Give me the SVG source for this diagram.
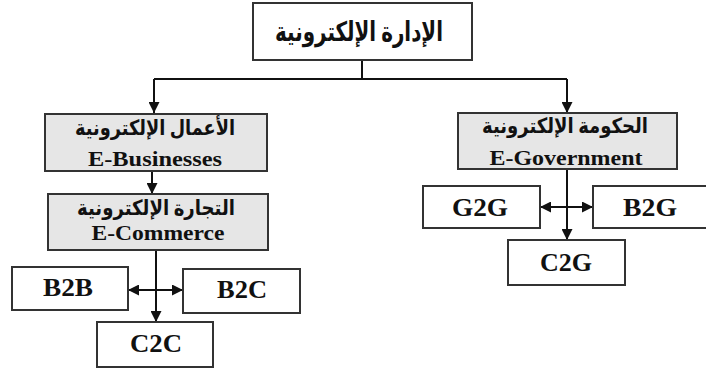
<svg xmlns="http://www.w3.org/2000/svg" width="706" height="368" viewBox="0 0 706 368">
<defs>
<marker id="ah" viewBox="0 0 10 10" refX="10" refY="5" markerWidth="11" markerHeight="11" markerUnits="userSpaceOnUse" orient="auto">
<path d="M0,0 L10,5 L0,10 Z" fill="#111"/>
</marker>
</defs>
<style>
.box{fill:#fff;stroke:#333;stroke-width:2}
.gbox{fill:#e6e6e6;stroke:#333;stroke-width:2}
.en{font-family:"Liberation Serif","Times New Roman",serif;font-weight:bold;fill:#111;text-anchor:middle}
.ar{font-family:"Liberation Serif","DejaVu Sans",serif;font-weight:bold;fill:#111;text-anchor:middle}
.ln{fill:none;stroke:#111;stroke-width:2}
.ar-ln{fill:none;stroke:#111;stroke-width:2;marker-end:url(#ah)}
</style>
<rect width="706" height="368" fill="#fff"/>
<g id="connectors">
<path class="ln" d="M362,60 V79"/>
<path class="ln" d="M154,79 H567"/>
<path class="ar-ln" d="M154,79 V113"/>
<path class="ar-ln" d="M567,79 V113"/>
<path class="ar-ln" d="M152,171 V194"/>
<path class="ar-ln" d="M156,250 V322"/>
<path class="ar-ln" d="M156,290 H128"/>
<path class="ar-ln" d="M156,290 H183"/>
<path class="ar-ln" d="M567,169 V240"/>
<path class="ar-ln" d="M567,207 H540"/>
<path class="ar-ln" d="M567,207 H593"/>
</g>
<g id="n-eadmin">
<rect class="box" x="253" y="3" width="219" height="57"/>
<text class="ar" x="359" y="41" font-size="27" textLength="168" lengthAdjust="spacingAndGlyphs">الإدارة الإلكترونية</text>
</g>
<g id="n-ebusiness">
<rect class="gbox" x="45" y="114" width="222" height="57"/>
<text class="ar" x="155" y="135" font-size="21" textLength="160" lengthAdjust="spacingAndGlyphs">الأعمال الإلكترونية</text>
<text class="en" x="155" y="166" font-size="20" textLength="134" lengthAdjust="spacingAndGlyphs">E-Businesses</text>
</g>
<g id="n-ecommerce">
<rect class="gbox" x="48" y="194" width="220" height="56"/>
<text class="ar" x="156" y="215" font-size="21" textLength="158" lengthAdjust="spacingAndGlyphs">التجارة الإلكترونية</text>
<text class="en" x="158" y="240" font-size="20" textLength="133" lengthAdjust="spacingAndGlyphs">E-Commerce</text>
</g>
<g id="n-egov">
<rect class="gbox" x="458" y="113" width="219" height="56"/>
<text class="ar" x="565" y="133" font-size="21" textLength="166" lengthAdjust="spacingAndGlyphs">الحكومة الإلكترونية</text>
<text class="en" x="566" y="165" font-size="20" textLength="153" lengthAdjust="spacingAndGlyphs">E-Government</text>
</g>
<g id="n-b2b">
<rect class="box" x="12" y="267" width="116" height="43"/>
<text class="en" x="68" y="296" font-size="26" textLength="50" lengthAdjust="spacingAndGlyphs">B2B</text>
</g>
<g id="n-b2c">
<rect class="box" x="183" y="269" width="117" height="44"/>
<text class="en" x="242" y="298" font-size="26" textLength="50" lengthAdjust="spacingAndGlyphs">B2C</text>
</g>
<g id="n-c2c">
<rect class="box" x="97" y="322" width="116" height="45"/>
<text class="en" x="156" y="352" font-size="26" textLength="52" lengthAdjust="spacingAndGlyphs">C2C</text>
</g>
<g id="n-g2g">
<rect class="box" x="423" y="186" width="117" height="42"/>
<text class="en" x="480" y="216" font-size="26" textLength="56" lengthAdjust="spacingAndGlyphs">G2G</text>
</g>
<g id="n-b2g">
<rect class="box" x="593" y="186" width="116" height="42"/>
<text class="en" x="650" y="216" font-size="26" textLength="54" lengthAdjust="spacingAndGlyphs">B2G</text>
</g>
<g id="n-c2g">
<rect class="box" x="508" y="240" width="117" height="45"/>
<text class="en" x="566" y="271" font-size="26" textLength="52" lengthAdjust="spacingAndGlyphs">C2G</text>
</g>
</svg>
